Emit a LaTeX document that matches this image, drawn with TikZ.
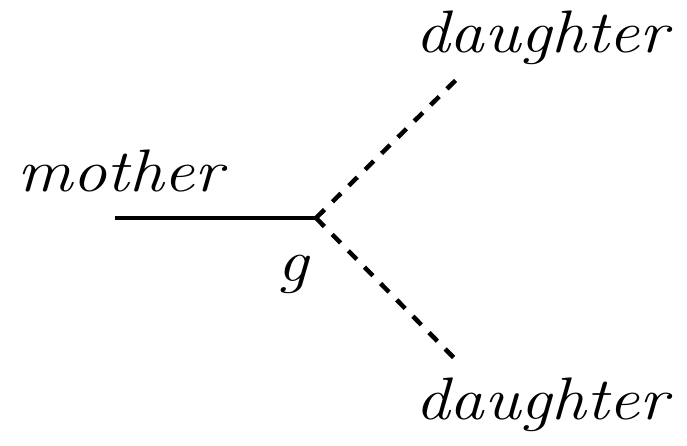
\documentclass[tikz,border=0pt]{standalone}
\begin{document}
\begin{tikzpicture}[x=1pt,y=1pt,
  lbl/.style={font=\fontsize{60}{70}\selectfont\itshape, inner sep=0pt, xscale=1.15},
  solidline/.style={line width=4.5pt},
  scalarline/.style={line width=4.5pt, dash pattern=on 12pt off 11pt}]
\useasboundingbox (0,0) rectangle (687,446);
\coordinate (v) at (316,228);
\coordinate (m) at (115,228);
\coordinate (d1) at (458,368);
\coordinate (d2) at (458,84);
\draw[solidline] (m) -- (v);
\draw[scalarline] (v) -- (d1);
\draw[scalarline] (v) -- (d2);
\node[lbl, anchor=base west] (lm) at (17,254) {mother};
\node[lbl, anchor=base west] (ld1) at (415,393) {daughter};
\node[lbl, anchor=base west] (ld2) at (415,26) {daughter};
\node[lbl, anchor=base west] (lg) at (277,164) {g};
\end{tikzpicture}
\end{document}
